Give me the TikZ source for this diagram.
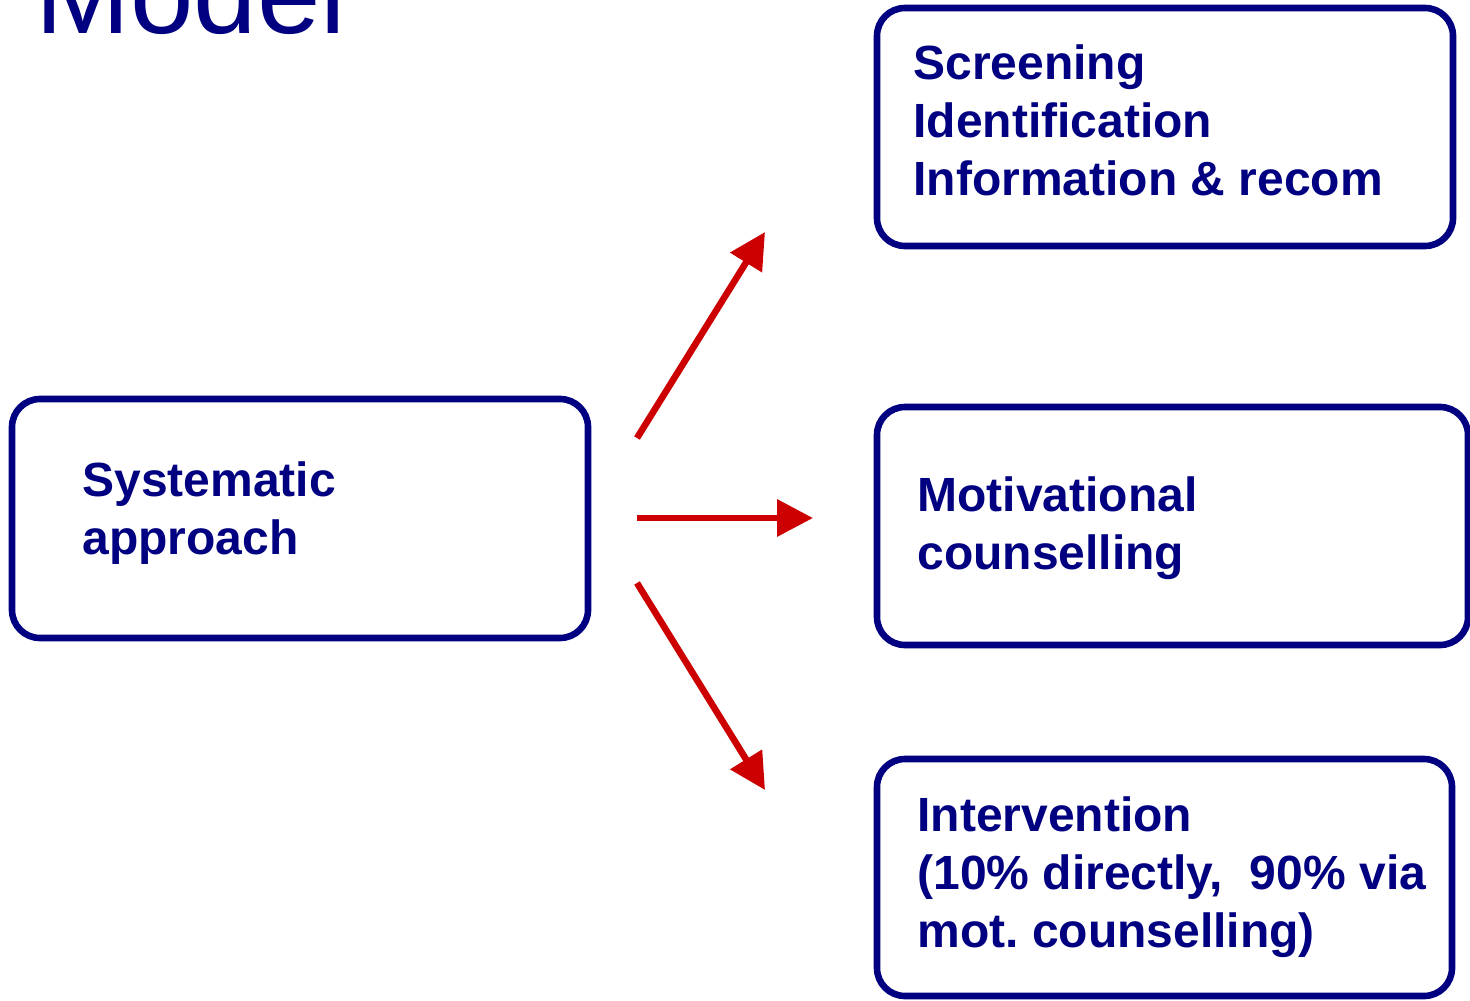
\documentclass[tikz,border=0pt]{standalone}
\usepackage{fontspec}
\setmainfont{Liberation Sans}
\usetikzlibrary{arrows.meta}
\definecolor{navy}{RGB}{0,0,128}
\definecolor{arrowred}{RGB}{204,0,0}
\tikzset{
  box/.style={draw=navy, line width=3.3pt, rounded corners=14pt},
  frame/.style={draw=none, inner sep=0pt},
  lbl/.style={inner sep=0pt, anchor=base west, align=left, text=navy,
    font=\bfseries\fontsize{24pt}{29pt}\selectfont},
  link/.style={draw=arrowred, line width=3.3pt, -{Triangle[length=18pt,width=18pt]}}
}
\begin{document}
\begin{tikzpicture}[x=0.5pt,y=-0.5pt]
\useasboundingbox (0,0) rectangle (1470,1000);
% title
\node[inner sep=0pt, anchor=base west, text=navy, font=\fontsize{57pt}{60pt}\selectfont] (title) at (35,34) {Model};
% boxes
\draw[box] (877,8) rectangle (1453,246);
\node[frame, minimum width=288pt, minimum height=119pt] (top) at (1165,127) {};
\draw[box] (877,407) rectangle (1468,645);
\node[frame, minimum width=295.5pt, minimum height=119pt] (mid) at (1172.5,526) {};
\draw[box] (877,759) rectangle (1452,996);
\node[frame, minimum width=287.5pt, minimum height=118.5pt] (bot) at (1164.5,877.5) {};
\draw[box] (12,399) rectangle (588,638);
\node[frame, minimum width=288pt, minimum height=119.5pt] (left) at (300,518.5) {};
% texts (anchor = baseline of last line)
\node[lbl] (ttop) at (913,196) {Screening\\Identification\\Information \& recom};
\node[lbl] (tmid) at (917,569) {Motivational\\counselling};
\node[lbl] (tbot) at (917,947) {Intervention\\(10\% directly,\ \ 90\% via\\mot.\ counselling)};
\node[lbl] (tleft) at (82,554) {Systematic\\approach};
% arrows
\coordinate (s1) at (637,438);
\coordinate (e1) at (765,232);
\coordinate (s2) at (637,518);
\coordinate (e2) at (813,518);
\coordinate (s3) at (637,583);
\coordinate (e3) at (765,790);
\draw[link] (s1) -- (e1);
\draw[link] (s2) -- (e2);
\draw[link] (s3) -- (e3);
\end{tikzpicture}
\end{document}
